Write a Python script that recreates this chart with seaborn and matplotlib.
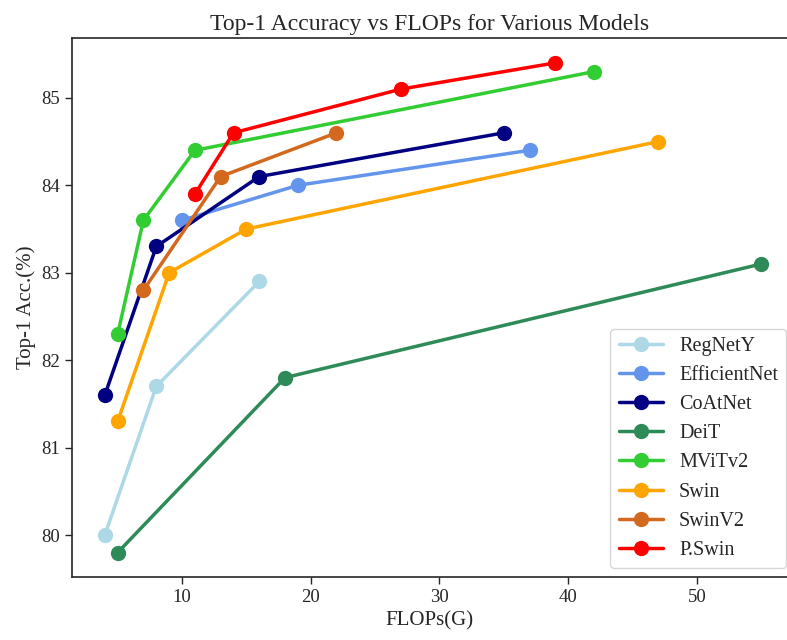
import matplotlib
matplotlib.use("Agg")
import matplotlib.pyplot as plt
import seaborn as sns
import pandas as pd

sns.set_style("ticks")
plt.rcParams['font.family'] = ['Liberation Serif', 'DejaVu Serif']

models = ["RegNetY", "EfficientNet", "CoAtNet", "DeiT", "MViTv2", "Swin", "SwinV2", "P.Swin"]
colors = ["lightblue", "cornflowerblue", "navy", "seagreen", "limegreen", "orange", "chocolate", "red"]

regnety_flops = [4, 8, 16]
regnety_acc = [80.0, 81.7, 82.9]
efficientnet_flops = [10, 19, 37]
efficientnet_acc = [83.6, 84.0, 84.4]
coatnet_flops = [4, 8, 16, 35]
coatnet_acc = [81.6, 83.3, 84.1, 84.6]
deit_flops = [5, 18, 55]
deit_acc = [79.8, 81.8, 83.1]
mvitv2_flops = [5, 7, 11, 42]
mvitv2_acc = [82.3, 83.6, 84.4, 85.3]
swin_flops = [5, 9, 15, 47]
swin_acc = [81.3, 83.0, 83.5, 84.5]
swinv2_flops = [7, 13, 22]
swinv2_acc = [82.8, 84.1, 84.6]
pswin_flops = [11, 14, 27, 39]
pswin_acc = [83.9, 84.6, 85.1, 85.4]

series = [
    (regnety_flops, regnety_acc),
    (efficientnet_flops, efficientnet_acc),
    (coatnet_flops, coatnet_acc),
    (deit_flops, deit_acc),
    (mvitv2_flops, mvitv2_acc),
    (swin_flops, swin_acc),
    (swinv2_flops, swinv2_acc),
    (pswin_flops, pswin_acc),
]

W, H = 787, 640
fig = plt.figure(figsize=(W / 100, H / 100), dpi=100)
# axes extends to the right figure edge (original plot is cut there)
ax = fig.add_axes([72 / W, 1 - 577 / H, (W - 72) / W, (577 - 38.4) / H])

for name, color, (fx, fy) in zip(models, colors, series):
    df = pd.DataFrame({"FLOPs": fx, "Acc": fy})
    sns.lineplot(data=df, x="FLOPs", y="Acc", ax=ax, color=color, marker="o",
                 markersize=11, markeredgewidth=0, linewidth=2.5, label=name, sort=False)

# full data range with 5% margins would be 1.45..57.55 over 72..794 px;
# the visible part ends at the figure edge
ax.set_xlim(1.45, 1.45 + (57.55 - 1.45) * (W - 72) / (794 - 72))
ax.set_ylim(79.52, 85.68)
ax.spines['right'].set_visible(False)
ax.set_xticks([10, 20, 30, 40, 50])
ax.set_yticks([80, 81, 82, 83, 84, 85])
ax.tick_params(labelsize=13.5, length=5, width=1)
for s in ax.spines.values():
    s.set_linewidth(1.2)
ax.set_title("Top-1 Accuracy vs FLOPs for Various Models", fontsize=17)
ax.set_xlabel("FLOPs(G)", fontsize=15)
ax.set_ylabel("Top-1 Acc.(%)", fontsize=15)
ax.legend(loc="lower right", fontsize=14.5, handlelength=2.2, labelspacing=0.5,
          bbox_to_anchor=(786 / W, 1 - 568 / H), bbox_transform=fig.transFigure,
          borderaxespad=0)

fig.savefig("out.png", dpi=100)
